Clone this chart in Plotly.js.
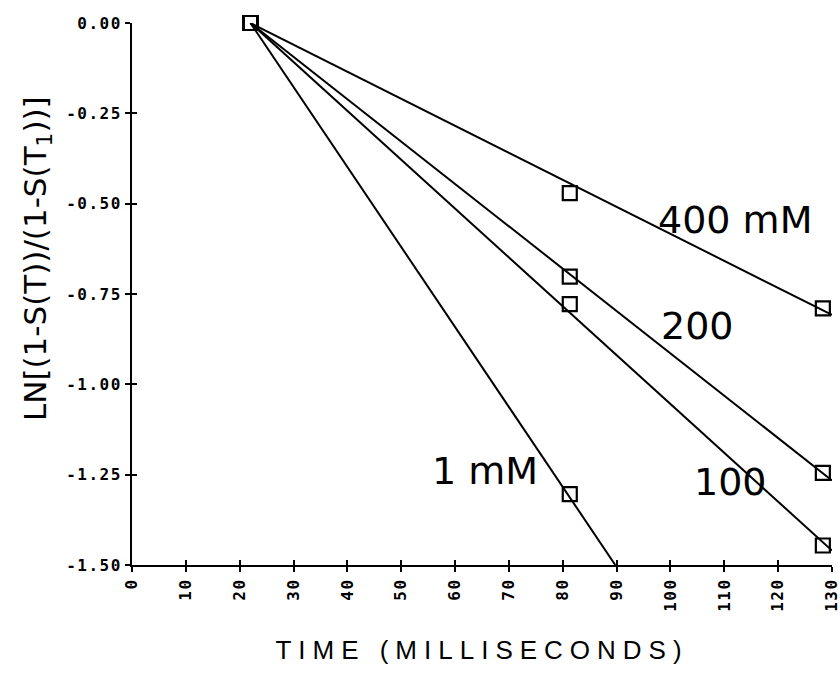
<!DOCTYPE html>
<html>
<head>
<meta charset="utf-8">
<script src="https://cdn.plot.ly/plotly-3.0.1.min.js"></script>
<style>
  html, body { margin: 0; padding: 0; background: #fff; }
  #chart { width: 840px; height: 675px; }
  .xtitle { letter-spacing: 7px; }
  .xtick text, .ytick text { letter-spacing: 1.5px; }
</style>
</head>
<body>
<div id="chart"></div>
<script>
// ---- data ----
const timeMs = [22, 81.3, 128.3];          // measured times (ms)
const ln400 = [0, -0.471, -0.790];
const ln200 = [0, -0.702, -1.245];
const ln100 = [0, -0.778, -1.446];
const time1mM = [22, 81.3];
const ln1 = [0, -1.304];

// fitted straight lines (start / end)
const fitX = [22, 130];
const fit400 = [0, -0.808];
const fit200 = [0, -1.266];
const fit100 = [0, -1.460];
const fit1X = [22, 89.75];
const fit1 = [0, -1.5];

const seriesLabels = ['400 mM', '200', '100', '1 mM'];

const xTickVals = [0, 10, 20, 30, 40, 50, 60, 70, 80, 90, 100, 110, 120, 130];
const xTickText = ['0', '10', '20', '30', '40', '50', '60', '70', '80', '90', '100', '110', '120', '130'];
const yTickVals = [0, -0.25, -0.5, -0.75, -1.0, -1.25, -1.5];
const yTickText = ['0.00', '-0.25', '-0.50', '-0.75', '-1.00', '-1.25', '-1.50'];

const xTitle = 'TIME (MILLISECONDS)';
const yTitle = 'LN[(1-S(T))/(1-S(T<sub>1</sub>))]';

// ---- styles ----
const lineStyle = { color: '#000', width: 2 };
const markerStyle = { symbol: 'square-open', size: 14, color: '#000', line: { color: '#000', width: 2.2 } };

function fitTrace(x, y) {
  return { x: x, y: y, mode: 'lines', line: lineStyle, hoverinfo: 'skip', showlegend: false };
}
function ptTrace(x, y) {
  return { x: x, y: y, mode: 'markers', marker: markerStyle, cliponaxis: false, showlegend: false };
}

const traces = [
  fitTrace(fitX, fit400), fitTrace(fitX, fit200), fitTrace(fitX, fit100), fitTrace(fit1X, fit1),
  ptTrace(timeMs, ln400), ptTrace(timeMs, ln200), ptTrace(timeMs, ln100), ptTrace(time1mM, ln1),
  { x: [], y: [], xaxis: 'x2', yaxis: 'y2', mode: 'markers', showlegend: false }
];

const tickFont = { family: 'DejaVu Sans Mono', size: 16, color: '#000', weight: 'bold' };
const labelFont = { family: 'DejaVu Sans', size: 38, color: '#000' };

const layout = {
  width: 840, height: 675,
  margin: { l: 132, r: 8, t: 23, b: 110 },
  paper_bgcolor: '#fff', plot_bgcolor: '#fff',
  showlegend: false,
  xaxis: {
    range: [0, 130], showgrid: false, zeroline: false,
    showline: true, linecolor: '#000', linewidth: 2,
    ticks: 'outside', ticklen: 5, tickwidth: 2, tickcolor: '#000',
    tickmode: 'array', tickvals: xTickVals, ticktext: xTickText,
    tickangle: -90, tickfont: tickFont, ticklabeloverflow: 'allow',
    title: { text: xTitle, font: { family: 'Liberation Sans', size: 26, color: '#000' }, standoff: 30 }
  },
  yaxis: {
    range: [-1.5, 0], showgrid: false, zeroline: false,
    showline: true, linecolor: '#000', linewidth: 2,
    ticks: 'outside', ticklen: 5, tickwidth: 2, tickcolor: '#000',
    tickmode: 'array', tickvals: yTickVals, ticktext: yTickText,
    tickfont: tickFont, ticklabeloverflow: 'allow'
  },
  xaxis2: {
    range: [0, 130], overlaying: 'x', anchor: 'y2', showgrid: false, zeroline: false, showline: false,
    ticks: 'inside', ticklen: 5, tickwidth: 2, tickcolor: '#000',
    tickmode: 'array', tickvals: xTickVals, showticklabels: false
  },
  yaxis2: {
    range: [-1.5, 0], overlaying: 'y', anchor: 'x2', showgrid: false, zeroline: false, showline: false,
    ticks: 'inside', ticklen: 5, tickwidth: 2, tickcolor: '#000',
    tickmode: 'array', tickvals: yTickVals, showticklabels: false
  },
  annotations: [
    { xref: 'paper', yref: 'paper', x: -0.136, y: 0.566, xanchor: 'center', yanchor: 'middle',
      text: yTitle, textangle: -90,
      showarrow: false, font: { family: 'DejaVu Sans', size: 31, color: '#000' } },
    { x: 111.9, y: -0.545, text: seriesLabels[0], showarrow: false, font: labelFont },
    { x: 105.0, y: -0.839, text: seriesLabels[1], showarrow: false, font: labelFont },
    { x: 111.1, y: -1.271, text: seriesLabels[2], showarrow: false, font: labelFont },
    { x: 65.6, y: -1.241, text: seriesLabels[3], showarrow: false, font: labelFont }
  ]
};

Plotly.newPlot('chart', traces, layout, { displayModeBar: false, staticPlot: true });
</script>
</body>
</html>
